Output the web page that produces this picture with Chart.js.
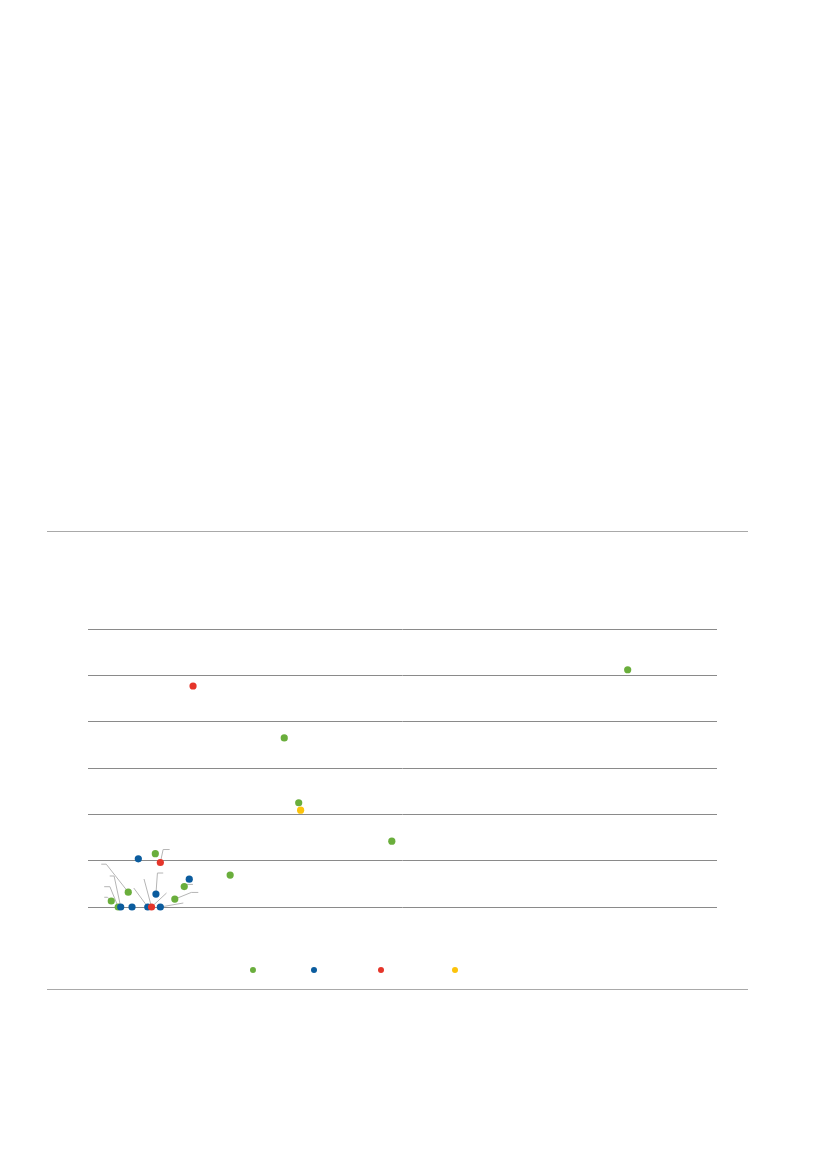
<!DOCTYPE html>
<html>
<head>
<meta charset="utf-8">
<script src="https://cdn.jsdelivr.net/npm/chart.js@4.4.1/dist/chart.umd.min.js"></script>
<style>
    html, body { margin: 0; padding: 0; background: #ffffff; }
    body { width: 827px; height: 1169px; position: relative; overflow: hidden; font-family: "Open Sans", sans-serif; }
    .rule { position: absolute; left: 47px; width: 701px; height: 0; border-top: 1px solid #a9a9a9; }
    #chart-wrap { position: absolute; left: 88px; top: 619px; width: 629px; height: 298px; }
    .legend-dot { position: absolute; width: 6px; height: 6px; border-radius: 50%; top: 967px; }
</style>
</head>
<body>
<div class="rule" style="top:531px"></div>
<div id="chart-wrap"><canvas id="scatter-canvas"></canvas></div>
<div id="legend"></div>
<div class="rule" style="top:989px"></div>

<script>
// Values (x: 0-100, y: 0-60 on the gridlines)
const greenX = [85.8, 31.2, 33.5, 48.3, 22.6, 15.3, 13.8, 10.7, 6.4, 3.7, 4.8];
const greenY = [51.2, 36.5, 22.5, 14.2, 6.9, 4.4, 1.7, 11.5, 3.2, 1.3, 0];
const blueX = [16.1, 10.8, 8.0, 5.2, 7.0, 9.5, 11.5];
const blueY = [6.0, 2.8, 10.4, 0, 0, 0, 0];
const redX = [16.7, 11.5, 10.1];
const redY = [47.7, 9.6, 0];
const yellowX = [33.8];
const yellowY = [20.9];
const yTicks = [0, 10, 20, 30, 40, 50, 60];

const COLORS = {
    green: '#6aae3c',
    blue: '#0b5c9e',
    red: '#e5352a',
    yellow: '#fcc30b'
};

// Leader lines: pixel offsets from the point centre (labels themselves are blank)
const leaders = [
    { set: 'green', i: 8, path: [[-22, -28], [-27, -28]] },
    { set: 'blue', i: 3, path: [[-6.6, -31], [-11, -31]] },
    { set: 'green', i: 10, path: [[-8.3, -20.3], [-14, -20.3]] },
    { set: 'green', i: 9, path: [[-3.7, -3.7], [-7, -3.7]] },
    { set: 'blue', i: 5, path: [[-14, -19]] },
    { set: 'red', i: 2, path: [[-7.5, -28]] },
    { set: 'red', i: 2, path: [[15, -14]] },
    { set: 'blue', i: 1, path: [[1.5, -21], [7.3, -21]] },
    { set: 'red', i: 1, path: [[2.8, -13], [9.3, -13]] },
    { set: 'blue', i: 6, path: [[23, -4]] },
    { set: 'green', i: 6, path: [[16.5, -6.7], [23.5, -6.7]] },
    { set: 'green', i: 5, path: [[2.7, -2.2], [8.7, -2.2]] }
];

// Legend dot centres (x, px)
const legendItems = [
    { key: 'green', x: 253 },
    { key: 'blue', x: 314 },
    { key: 'red', x: 381 },
    { key: 'yellow', x: 455 }
];

function toPoints(xs, ys) {
    return xs.map((x, i) => ({ x: x, y: ys[i] }));
}

function makeSet(key, xs, ys) {
    return {
        key: key,
        data: toPoints(xs, ys),
        backgroundColor: COLORS[key],
        borderWidth: 0,
        pointRadius: 3.6,
        pointHoverRadius: 3.6,
        clip: false
    };
}

const leaderPlugin = {
    id: 'leaders',
    beforeDatasetsDraw(chart) {
        const ctx = chart.ctx;
        ctx.save();
        ctx.strokeStyle = '#b5b5b5';
        ctx.lineWidth = 1;
        leaders.forEach(l => {
            const dsIndex = chart.data.datasets.findIndex(d => d.key === l.set);
            const el = chart.getDatasetMeta(dsIndex).data[l.i];
            if (!el) return;
            ctx.beginPath();
            ctx.moveTo(el.x, el.y);
            l.path.forEach(p => ctx.lineTo(el.x + p[0], el.y + p[1]));
            ctx.stroke();
        });
        ctx.restore();
    }
};

function buildLegend() {
    const box = document.getElementById('legend');
    legendItems.forEach(item => {
        const dot = document.createElement('div');
        dot.className = 'legend-dot';
        dot.style.left = (item.x - 3) + 'px';
        dot.style.background = COLORS[item.key];
        box.appendChild(dot);
    });
}

function buildChart() {
    const ctx = document.getElementById('scatter-canvas');
    // first dataset is painted last, so red sits on top
    const datasets = [
        makeSet('red', redX, redY),
        makeSet('yellow', yellowX, yellowY),
        makeSet('blue', blueX, blueY),
        makeSet('green', greenX, greenY)
    ];

    new Chart(ctx, {
        type: 'scatter',
        data: { datasets: datasets },
        options: {
            responsive: true,
            maintainAspectRatio: false,
            animation: false,
            layout: { autoPadding: false, padding: { top: 10, bottom: 10, left: 0, right: 0 } },
            plugins: {
                legend: { display: false },
                tooltip: { enabled: false }
            },
            scales: {
                x: {
                    type: 'linear',
                    min: 0,
                    max: 100,
                    display: false
                },
                y: {
                    type: 'linear',
                    min: yTicks[0],
                    max: yTicks[yTicks.length - 1],
                    afterBuildTicks: axis => { axis.ticks = yTicks.map(v => ({ value: v })); },
                    ticks: { display: false },
                    border: { display: false },
                    grid: {
                        color: '#8a8a8a',
                        lineWidth: 1,
                        drawTicks: false
                    }
                }
            }
        },
        plugins: [leaderPlugin]
    });
}

buildLegend();
buildChart();
</script>
</body>
</html>
